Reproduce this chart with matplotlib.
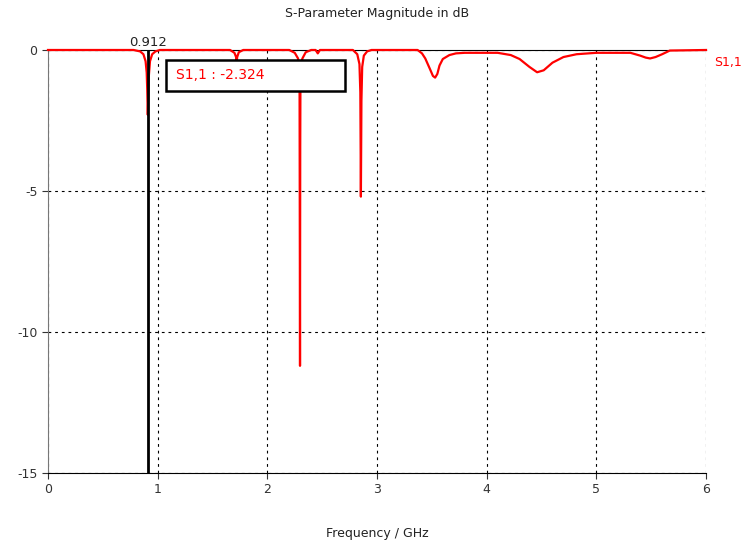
import matplotlib
matplotlib.use("Agg")
import matplotlib.pyplot as plt
from matplotlib.patches import Rectangle

# S1,1 magnitude (GHz, dB)
freq = [0.0, 0.78, 0.84, 0.87, 0.89, 0.90, 0.905, 0.91, 0.915, 0.92, 0.93, 0.95, 0.98, 1.02,
        1.66, 1.70, 1.715, 1.72, 1.725, 1.74, 1.78,
        2.20, 2.25, 2.28, 2.29, 2.294, 2.298, 2.300, 2.302, 2.306, 2.32, 2.35, 2.40,
        2.44, 2.46, 2.48,
        2.78, 2.82, 2.84, 2.848, 2.853, 2.858, 2.865, 2.88, 2.91, 2.95,
        3.37, 3.41, 3.44, 3.48, 3.51, 3.53, 3.55, 3.57, 3.60, 3.66, 3.72, 3.80,
        4.10, 4.22, 4.30, 4.39, 4.46, 4.52, 4.60, 4.70, 4.82, 5.00,
        5.31, 5.40, 5.45, 5.49, 5.54, 5.60, 5.67, 6.0]
s11 = [0.0, 0.0, -0.05, -0.15, -0.4, -0.8, -1.4, -2.3, -1.6, -0.9, -0.4, -0.15, -0.05, 0.0,
       0.0, -0.1, -0.25, -0.45, -0.25, -0.08, 0.0,
       0.0, -0.1, -0.3, -0.6, -1.5, -11.2, -3.4, -1.0, -0.5, -0.3, -0.08, 0.0,
       0.0, -0.12, 0.0,
       0.0, -0.15, -0.5, -1.5, -5.2, -1.8, -0.6, -0.2, -0.05, 0.0,
       0.0, -0.12, -0.3, -0.65, -0.92, -0.98, -0.85, -0.55, -0.32, -0.18, -0.12, -0.1,
       -0.1, -0.18, -0.32, -0.6, -0.79, -0.72, -0.45, -0.25, -0.15, -0.1,
       -0.1, -0.2, -0.27, -0.3, -0.25, -0.15, -0.02, 0.0]

marker_freq = 0.912
marker_val = -2.324
x_ticks = [0, 1, 2, 3, 4, 5, 6]
y_ticks = [0, -5, -10, -15]

plt.rcParams['font.family'] = ['DejaVu Sans']
plt.rcParams['axes.unicode_minus'] = False
fig = plt.figure(figsize=(7.51, 5.41), dpi=100)
ax = fig.add_axes([0.0639, 0.1257, 0.8762, 0.7819])

ax.plot(freq, s11, color='#ff0000', lw=1.6, zorder=3, clip_on=False)
ax.axvline(marker_freq, color='black', lw=2, zorder=4)

ax.set_xlim(0, 6)
ax.set_ylim(-15, 0)
ax.set_xticks(x_ticks)
ax.set_yticks(y_ticks)
ax.grid(True, color='black', ls=(0, (2.5, 3.5)), lw=0.8)
ax.tick_params(colors='#333333', labelsize=9, length=4, width=0.8)

ax.spines['right'].set_visible(False)
ax.spines['left'].set_color('#777777')
ax.spines['bottom'].set_color('black')
ax.spines['top'].set_color('black')

ax.set_title('S-Parameter Magnitude in dB', fontsize=9, color='#222222', pad=24)
ax.set_xlabel('Frequency / GHz', fontsize=9, color='#222222', labelpad=22)

ax.text(marker_freq, 0.05, f'{marker_freq:.3f}', ha='center', va='bottom',
        fontsize=9.5, color='#222222')
# marker readout box
ax.add_patch(Rectangle((1.076, -1.454), 1.631, 1.099, fc='white', ec='black',
                       lw=1.8, zorder=5))
ax.text(1.167, -0.88, f'S1,1 : {marker_val:.3f}', ha='left', va='center', fontsize=10,
        color='#ff0000', zorder=6)
ax.text(1.012, 0.97, 'S1,1', transform=ax.transAxes, ha='left', va='center',
        fontsize=9, color='#ff0000')

fig.savefig('out.png', dpi=100)
